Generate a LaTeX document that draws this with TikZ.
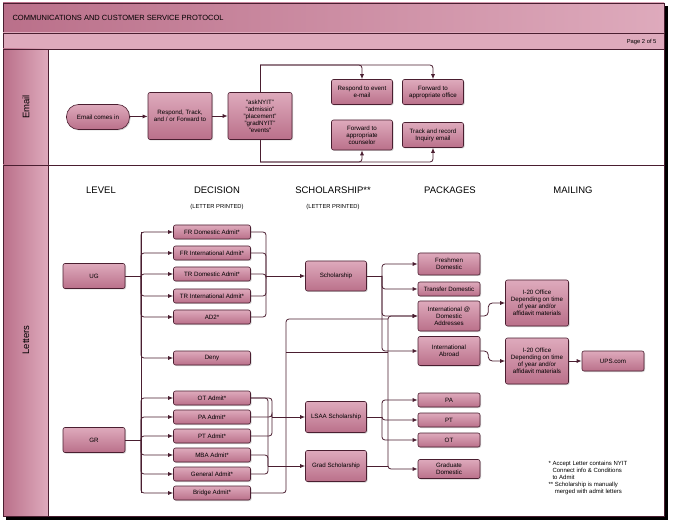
\documentclass[tikz,border=0pt]{standalone}
\usepackage{fontspec}
\setmainfont{Liberation Sans}
\usetikzlibrary{arrows.meta,positioning,shadows}
\definecolor{plum}{RGB}{74,30,48}
\definecolor{rose}{RGB}{186,112,138}
\definecolor{roselight}{RGB}{222,170,188}
\tikzset{
	>={Latex[length=5pt,width=4pt]},
	line/.style = {draw=plum, line width=0.8pt},
	box/.style = {
			draw=plum, line width=0.6pt, rounded corners=2pt,
			top color=roselight, bottom color=rose,
			align=center, font=\fontsize{6.2}{6.9}\selectfont,
			inner sep=1pt, drop shadow={opacity=0.35,shadow xshift=1pt,shadow yshift=-1pt},
		},
	lane/.style = {draw=plum, line width=0.6pt, left color=rose, right color=roselight},
	head/.style = {font=\fontsize{9.5}{10}\selectfont},
	sub/.style = {font=\fontsize{5.8}{6}\selectfont},
}
\begin{document}
\begin{tikzpicture}[x=1pt,y=-1pt]
			\useasboundingbox (0,0) rectangle (674,526);
			% frame
			\fill[black] (6,6) rectangle (668,520);
			\fill[white] (3,3) rectangle (664,516);
			\draw[plum,line width=0.6pt] (3,3) rectangle (664,516);
			\draw[lane] (3,3) rectangle (664,33);
			\node[anchor=west,font=\fontsize{7.5}{8}\selectfont] (Title) at (9,18)
			{COMMUNICATIONS AND CUSTOMER SERVICE PROTOCOL};
			\draw[lane,left color=roselight] (3,33) rectangle (664,49);
			\node[anchor=east,font=\fontsize{5.8}{6}\selectfont] (Page) at (660,42) {Page 2 of 5};
			\draw[plum,line width=0.6pt] (3,49) rectangle (664,165);
			\draw[plum,line width=0.6pt] (3,165) rectangle (664,516);
			\draw[lane] (3,49) rectangle (48,165);
			\draw[lane] (3,165) rectangle (48,516);
			\node[rotate=90,font=\fontsize{9.5}{10}\selectfont] (Email lane) at (26,107) {Email};
			\node[rotate=90,font=\fontsize{9.5}{10}\selectfont] (Letters lane) at (26,340) {Letters};

			% Email
			\coordinate (Etop) at (260,65);
			\coordinate (Ebot) at (260,162);
			\draw[line] (Etop) -- (Ebot);
			\node[box,rounded corners=12pt,minimum width=63,minimum height=25] (Email comes in) at (98,117) {Email comes in};
			\node[box,minimum width=64,minimum height=47] (Respond track) at (180,116) {Respond, Track,\\and / or Forward to};
			\node[box,minimum width=64,minimum height=47] (Inboxes) at (260,116)
			{"askNYIT"\\"admissio"\\"placement"\\"gradNYIT"\\"events"};
			\node[box,minimum width=61,minimum height=25] (Respond event) at (362,92) {Respond to event\\e-mail};
			\node[box,minimum width=61,minimum height=25] (Forward office) at (433,92) {Forward to\\appropriate office};
			\node[box,minimum width=61,minimum height=30] (Forward counselor) at (362,135) {Forward to\\appropriate\\counselor};
			\node[box,minimum width=61,minimum height=25] (Track record) at (433,135) {Track and record\\Inquiry email};
			\draw[->,line] (Email comes in) to (Respond track);
			\draw[->,line] (Respond track) to (Inboxes);
			\draw[->,line,rounded corners=3pt] (Etop) -| (Respond event.north);
			\draw[->,line,rounded corners=3pt] (Etop) -| (Forward office.north);
			\draw[->,line,rounded corners=3pt] (Ebot) -| (Forward counselor.south);
			\draw[->,line,rounded corners=3pt] (Ebot) -| (Track record.south);

			% Letters headings
			\node[head] (Level) at (101,190) {LEVEL};
			\node[head] (Decision) at (217,190) {DECISION};
			\node[head] (Scholarship head) at (333,190) {SCHOLARSHIP**};
			\node[head] (Packages) at (450,190) {PACKAGES};
			\node[head] (Mailing) at (573,190) {MAILING};
			\node[sub] (Printed1) at (217,207) {(LETTER PRINTED)};
			\node[sub] (Printed2) at (333,207) {(LETTER PRINTED)};

			% Level
			\node[box,minimum width=62,minimum height=25] (UG) at (94,276) {UG};
			\node[box,minimum width=62,minimum height=25] (GR) at (94,440) {GR};

			% Decision
			\foreach \name/\txt/\y in {FRD/FR Domestic Admit*/232, FRI/FR International Admit*/253,
					TRD/TR Domestic Admit*/274, TRI/TR International Admit*/296, AD2/AD2*/317,
					Deny/Deny/358, OT/OT Admit*/398, PA/PA Admit*/417, PT/PT Admit*/436,
					MBA/MBA Admit*/455, General/General Admit*/474, Bridge/Bridge Admit*/493}
				\node[box,minimum width=77,minimum height=14] (\name) at (212,\y) {\txt};

			\coordinate (Ubus) at (141,276);
			\coordinate (Gbus) at (141,440);
			\draw[line] (UG) -- (Ubus);
			\draw[line] (GR) -- (Gbus);
			\draw[line] (141,232) -- (141,493);
			\foreach \name in {FRD,FRI,TRD,TRI,AD2,Deny}
				\draw[->,line,rounded corners=3pt] (Ubus) |- (\name.west);
			\foreach \name in {OT,PA,PT,MBA,General,Bridge}
				\draw[->,line,rounded corners=3pt] (Gbus) |- (\name.west);

			% Scholarship
			\node[box,minimum width=61,minimum height=30] (Scholarship) at (336,276) {Scholarship};
			\node[box,minimum width=61,minimum height=31] (LSAA) at (336,417) {LSAA Scholarship};
			\node[box,minimum width=61,minimum height=31] (Grad) at (336,466) {Grad Scholarship};

			\coordinate (Sbus) at (266,276);
			\foreach \name in {FRD,FRI,TRD,TRI,AD2}
				\draw[line,rounded corners=3pt] (\name.east) -| (Sbus);
			\draw[->,line] (Sbus) -- (Scholarship);
			\coordinate (Lbus) at (272,417);
			\foreach \name in {OT,PA,PT}
				\draw[line,rounded corners=3pt] (\name.east) -| (Lbus);
			\draw[->,line] (Lbus) -- (LSAA);
			\coordinate (Gsbus) at (268,466);
			\draw[line,rounded corners=3pt] (OT.east) -| (Gsbus);
			\foreach \name in {MBA,General}
				\draw[line,rounded corners=3pt] (\name.east) -| (Gsbus);
			\draw[->,line] (Gsbus) -- (Grad);

			% Packages
			\node[box,minimum width=62,minimum height=22] (Freshmen) at (449,264) {Freshmen\\Domestic};
			\node[box,minimum width=62,minimum height=14] (Transfer) at (449,289) {Transfer Domestic};
			\node[box,minimum width=62,minimum height=30] (Intl dom) at (449,316) {International @\\Domestic\\Addresses};
			\node[box,minimum width=62,minimum height=29] (Intl abroad) at (449,351) {International\\Abroad};
			\node[box,minimum width=62,minimum height=14] (PA pkg) at (449,400) {PA};
			\node[box,minimum width=62,minimum height=14] (PT pkg) at (449,420) {PT};
			\node[box,minimum width=62,minimum height=14] (OT pkg) at (449,440) {OT};
			\node[box,minimum width=62,minimum height=19] (Grad dom) at (449,469) {Graduate\\Domestic};

			\coordinate (Pbus1) at (382,276);
			\draw[line] (Scholarship) -- (Pbus1);
			\foreach \name in {Freshmen,Transfer,Intl dom,Intl abroad}
				\draw[->,line,rounded corners=3pt] (Pbus1) |- (\name.west);
			\coordinate (Pbus2) at (382,417);
			\draw[line] (LSAA) -- (Pbus2);
			\foreach \name in {PA pkg,PT pkg,OT pkg}
				\draw[->,line,rounded corners=3pt] (Pbus2) |- (\name.west);
			\coordinate (Pbus3) at (388,466);
			\draw[line] (Grad) -- (Pbus3);
			\draw[->,line,rounded corners=3pt] (Pbus3) |- (Intl dom.west);
			\draw[->,line,rounded corners=3pt] (Pbus3) |- (Grad dom.west);
			\coordinate (Bbus) at (286,493);
			\draw[line,rounded corners=3pt] (Bridge.east) -- (Bbus) -- (286,319) -- (388,319);
			\draw[line,rounded corners=3pt] (286,352) -- (388,352);

			% Mailing
			\node[box,minimum width=63,minimum height=46] (I20 first) at (537,303)
			{I-20 Office\\Depending on time\\of year and/or\\affidavit materials};
			\node[box,minimum width=63,minimum height=46] (I20 second) at (537,361)
			{I-20 Office\\Depending on time\\of year and/or\\affidavit materials};
			\node[box,minimum width=62,minimum height=20] (UPS) at (613,361) {UPS.com};
			\draw[->,line,rounded corners=4pt] (Intl dom.east) -- ++(8,0) |- (I20 first.west);
			\draw[->,line,rounded corners=4pt] (Intl abroad.east) -- ++(8,0) |- (I20 second.west);
			\draw[->,line] (I20 second) to (UPS);

			% Notes
			\node[anchor=north west,align=left,font=\fontsize{6}{7}\selectfont] (Notes) at (545,458)
			{* Accept Letter contains NYIT\\\phantom{*} Connect info \& Conditions\\\phantom{*} to Admit\\** Scholarship is manually\\\phantom{**} merged with admit letters};
		\end{tikzpicture}
\end{document}
